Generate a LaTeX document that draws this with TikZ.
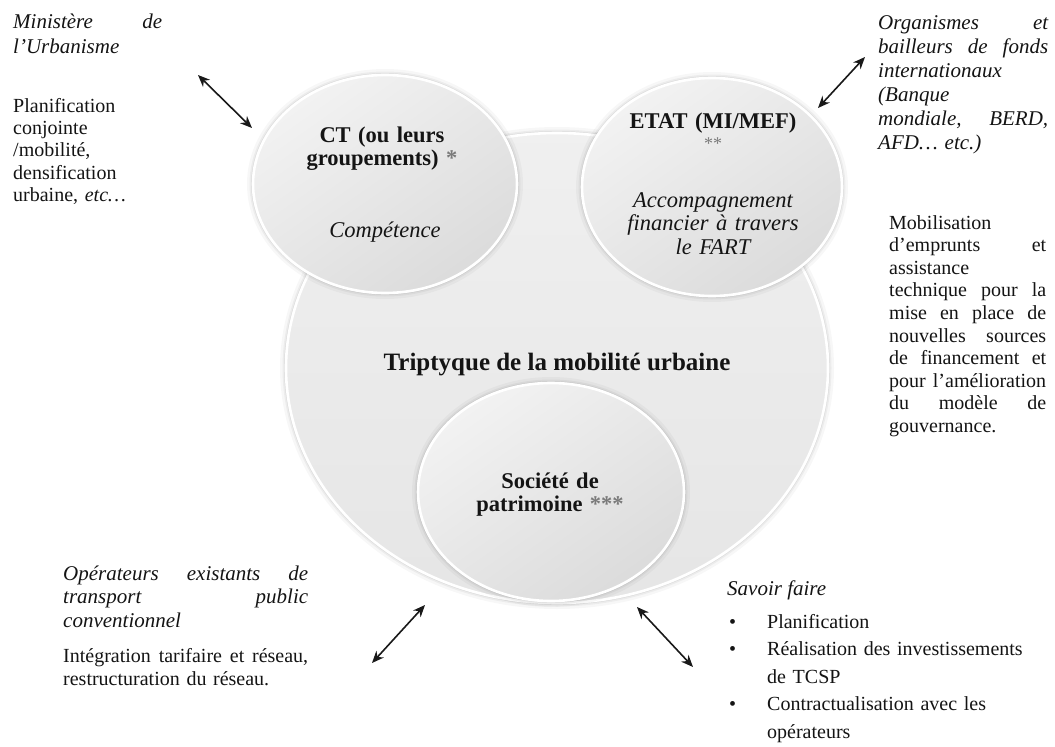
\documentclass[tikz,border=0pt]{standalone}
\usepackage{fontspec}
\setmainfont{Liberation Serif}
\usetikzlibrary{arrows.meta,shapes.geometric}

\definecolor{ink}{HTML}{141414}
\definecolor{starcol}{HTML}{7A7A7A}

% a justified line: words spread over the given width by \hfill
\newcommand{\spread}[2]{\makebox[#1pt][l]{#2}}
% bullet with its hanging indent
\newcommand{\bul}{\makebox[38pt][l]{•}}
\newcommand{\hang}{\hspace*{38pt}}

\tikzset{
  bubble/.style={ellipse, inner sep=0pt, outer sep=0pt,
    preaction={draw=black, draw opacity=0.03, line width=12pt},
    preaction={draw=black, draw opacity=0.045, line width=7pt},
    preaction={draw=black, draw opacity=0.06, line width=4pt},
    draw=white, line width=2.6pt},
  bigbubble/.style={bubble, top color=black!6, bottom color=black!10},
  smallbubble/.style={bubble, top color=black!5, bottom color=black!14, shading angle=35},
  twoway/.style={{Stealth[length=12pt,width=10pt]}-{Stealth[length=12pt,width=10pt]},
    line width=1.6pt, black!90},
  sidetext/.style={anchor=base west, align=left, inner sep=0pt, text=ink,
    font=\fontsize{20}{22.4}\selectfont},
  sidehead/.style={sidetext, font=\fontsize{21}{24}\selectfont\itshape},
  ctitle/.style={anchor=base, align=center, inner sep=0pt, text=ink, text width=260,
    font=\fontsize{22.5}{23}\selectfont\bfseries},
  cnote/.style={anchor=base, align=center, inner sep=0pt, text=ink, text width=260,
    font=\fontsize{22.5}{23.5}\selectfont\itshape},
}

\begin{document}
\begin{tikzpicture}[x=1pt, y=-1pt]
\useasboundingbox (0,0) rectangle (1055,747);
\fill[white] (0,0) rectangle (1055,747);

% --- the three partners around the central triptych
\node[bigbubble, minimum width=542, minimum height=470] (triptyque) at (557,368) {};
\node[smallbubble, minimum width=264, minimum height=218] (ct) at (385,184) {};
\node[smallbubble, minimum width=260, minimum height=218] (etat) at (712,187) {};
\node[smallbubble, minimum width=266, minimum height=218] (societe) at (551,492) {};

% --- texts inside the circles
\node[font=\fontsize{25}{28}\selectfont\bfseries, anchor=base, text=ink, inner sep=0pt]
  (titre) at (557,370) {Triptyque de la mobilité urbaine};

\node[ctitle] (ctnom) at (382,142) {CT (ou leurs\\groupements) {\color{starcol}*}};
\node[cnote] (ctrole) at (385,237) {Compétence};

\node[ctitle] (etatnom) at (713,128) {ETAT (MI/MEF)};
\node[anchor=base, inner sep=0pt, text=starcol, font=\fontsize{18}{18}\selectfont]
  (etatrenvoi) at (713,149) {**};
\node[cnote] (etatrole) at (713,207) {Accompagnement\\financier à travers\\le FART};

\node[ctitle] (societenom) at (550,488) {Société de\\patrimoine {\color{starcol}***}};

% --- Ministère de l'Urbanisme
\node[sidehead, text width=149, font=\fontsize{21}{25}\selectfont\itshape]
  (ministere) at (13,28) {\spread{149}{Ministère\hfill de}\\l’Urbanisme};
\node[sidetext, text width=149] (ministererole) at (13,112)
  {Planification\\conjointe\\/mobilité,\\densification\\urbaine, \textit{etc…}};

% --- Organismes et bailleurs de fonds
\node[sidehead, text width=170]
  (bailleurs) at (878,29)
  {\spread{170}{Organismes\hfill et}\\\spread{170}{bailleurs\hfill de\hfill fonds}\\internationaux\\(Banque\\\spread{170}{mondiale,\hfill BERD,}\\AFD… etc.)};
\node[sidetext, text width=157, font=\fontsize{20}{22.6}\selectfont]
  (bailleursrole) at (889,229)
  {Mobilisation\\\spread{157}{d’emprunts\hfill et}\\assistance\\\spread{157}{technique\hfill pour\hfill la}\\\spread{157}{mise\hfill en\hfill place\hfill de}\\\spread{157}{nouvelles\hfill sources}\\\spread{157}{de\hfill financement\hfill et}\\\spread{157}{pour\hfill l’amélioration}\\\spread{157}{du\hfill modèle\hfill de}\\gouvernance.};

% --- Opérateurs existants
\node[sidehead, text width=245, font=\fontsize{21}{23.5}\selectfont\itshape]
  (operateurs) at (63,580)
  {\spread{245}{Opérateurs\hfill existants\hfill de}\\\spread{245}{transport\hfill public}\\conventionnel};
\node[sidetext, text width=245, font=\fontsize{20}{23}\selectfont]
  (operateursrole) at (63,662)
  {\spread{245}{Intégration\hfill tarifaire\hfill et\hfill réseau,}\\restructuration du réseau.};

% --- Savoir faire
\node[sidehead] (savoir) at (727,595) {Savoir faire};
\node[sidetext, text width=320, font=\fontsize{20}{27.5}\selectfont]
  (savoirliste) at (729,628)
  {\bul Planification\\\bul Réalisation des investissements\\\hang de TCSP\\\bul Contractualisation avec les\\\hang opérateurs};

% --- exchanges between the partners and the triptych
\coordinate (ministere-a) at (198,75);
\coordinate (ct-a) at (252,128);
\coordinate (bailleurs-a) at (865,57);
\coordinate (etat-a) at (818,108);
\coordinate (operateurs-a) at (372,663);
\coordinate (societe-a) at (425,605);
\coordinate (savoir-a) at (693,667);
\coordinate (societe-b) at (637,607);

\draw[twoway] (ministere-a) -- (ct-a);
\draw[twoway] (bailleurs-a) -- (etat-a);
\draw[twoway] (operateurs-a) -- (societe-a);
\draw[twoway] (savoir-a) -- (societe-b);
\end{tikzpicture}
\end{document}
